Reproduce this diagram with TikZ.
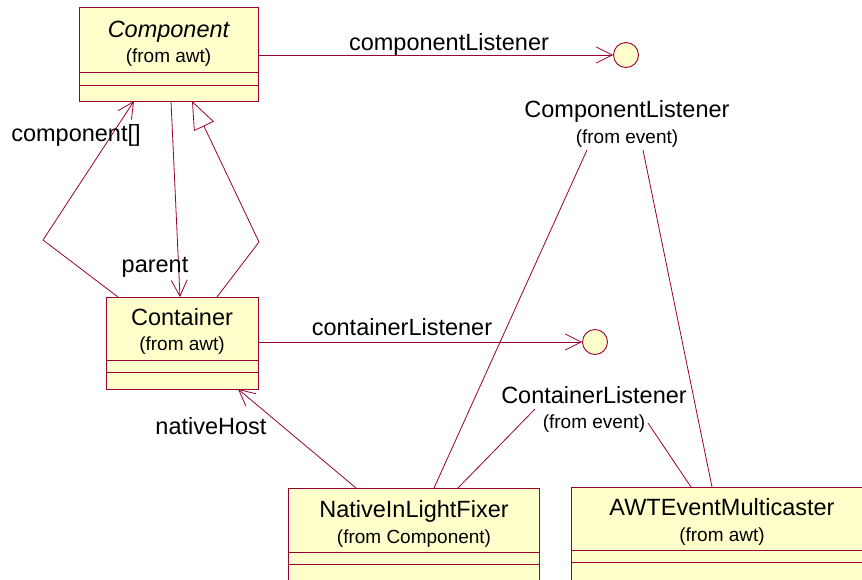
\documentclass[tikz,border=0pt]{standalone}
\usepackage{fontspec}
\setmainfont{Liberation Sans}
\usetikzlibrary{arrows.meta}
\definecolor{rose}{HTML}{990033}
\definecolor{classfill}{HTML}{FFFFCC}
\tikzset{
  classbox/.style={draw=rose, fill=classfill, line width=0.9pt, rectangle, inner sep=0pt, anchor=north west},
  compline/.style={draw=rose, line width=0.9pt},
  conn/.style={draw=rose, line width=0.8pt},
  openarrow/.style={conn, -{Straight Barb[length=16pt,width=16pt,line width=0.8pt]}},
  genarrow/.style={conn, -{Triangle[open,length=28pt,width=22pt,line width=0.8pt,fill=white]}},
  iface/.style={draw=rose, fill=classfill, line width=0.9pt, circle, inner sep=0pt, minimum size=25pt},
  titletxt/.style={font=\fontsize{23.5}{26}\selectfont, anchor=base, inner sep=0pt},
  subtxt/.style={font=\fontsize{19}{22}\selectfont, anchor=base, inner sep=0pt},
  lbl/.style={font=\fontsize{23.5}{26}\selectfont, anchor=base, inner sep=0pt},
}
\begin{document}
\begin{tikzpicture}[x=1pt,y=-1pt]
\useasboundingbox (0,0) rectangle (862,579);
\clip (0,0) rectangle (862,579);
\fill[white] (0,0) rectangle (862,579);

% Component
\node[classbox, minimum width=179pt, minimum height=94pt] (comp) at (79,7) {};
\draw[compline] (79,72) -- (258,72);
\draw[compline] (79,85) -- (258,85);
\node[titletxt] (compT) at (168.5,37) {\itshape Component};
\node[subtxt] (compS) at (168.5,62) {(from awt)};

% Container
\node[classbox, minimum width=152pt, minimum height=92pt] (cont) at (106,297) {};
\draw[compline] (106,360) -- (258,360);
\draw[compline] (106,372) -- (258,372);
\node[titletxt] (contT) at (182,325) {Container};
\node[subtxt] (contS) at (182,350) {(from awt)};

% NativeInLightFixer
\node[classbox, minimum width=251pt, minimum height=110pt] (nlf) at (288,488) {};
\draw[compline] (288,552) -- (539,552);
\draw[compline] (288,564) -- (539,564);
\node[titletxt] (nlfT) at (414,517) {NativeInLightFixer};
\node[subtxt] (nlfS) at (414,543) {(from Component)};

% AWTEventMulticaster
\node[classbox, minimum width=303pt, minimum height=110pt] (awt) at (571,487) {};
\draw[compline] (571,550) -- (874,550);
\draw[compline] (571,562) -- (874,562);
\node[titletxt] (awtT) at (722,515) {AWTEventMulticaster};
\node[subtxt] (awtS) at (722,541) {(from awt)};

% Interfaces
\node[iface] (cl) at (626,55) {};
\node[titletxt] (clT) at (627,117) {ComponentListener};
\node[subtxt] (clS) at (627,143) {(from event)};
\node[iface] (ctl) at (595,342) {};
\node[titletxt] (ctlT) at (594,403) {ContainerListener};
\node[subtxt] (ctlS) at (594,428) {(from event)};

% coordinates for connector ends
\coordinate (cl1) at (587,150);
\coordinate (cl2) at (643,150);
\coordinate (ctl1) at (535,409);
\coordinate (ctl2) at (648,423);
\coordinate (nlfA) at (434,488);
\coordinate (nlfB) at (458,488);
\coordinate (nlfC) at (356,488);
\coordinate (awtA) at (712,487);
\coordinate (awtB) at (691,487);

% listener associations
\draw[openarrow] (comp.east |- cl) -- (cl.west);
\node[lbl] (lcl) at (449,50) {componentListener};
\draw[openarrow] (cont.east |- ctl) -- (ctl.west);
\node[lbl] (lctl) at (402,335) {containerListener};

% realizations
\draw[conn] (cl1) -- (nlfA);
\draw[conn] (cl2) -- (awtA);
\draw[conn] (ctl1) -- (nlfB);
\draw[conn] (ctl2) -- (awtB);

% nativeHost
\coordinate (contH) at (238,389);
\draw[openarrow] (nlfC) -- (contH);
\node[lbl] (lnh) at (211,434) {nativeHost};

% component[]
\coordinate (contA) at (118,297);
\coordinate (bendA) at (43,240);
\coordinate (compA) at (134,101);
\draw[openarrow] (contA) -- (bendA) -- (compA);
\node[lbl] (lcomp) at (76,141) {component[]};

% parent
\coordinate (compP) at (171,101);
\coordinate (contP) at (180,297);
\draw[openarrow] (compP) -- (contP);
\node[lbl] (lpar) at (155,272) {parent};

% generalization
\coordinate (contG) at (217,297);
\coordinate (bendG) at (259,242);
\coordinate (compG) at (192,101);
\draw[genarrow] (contG) -- (bendG) -- (compG);
\end{tikzpicture}
\end{document}
